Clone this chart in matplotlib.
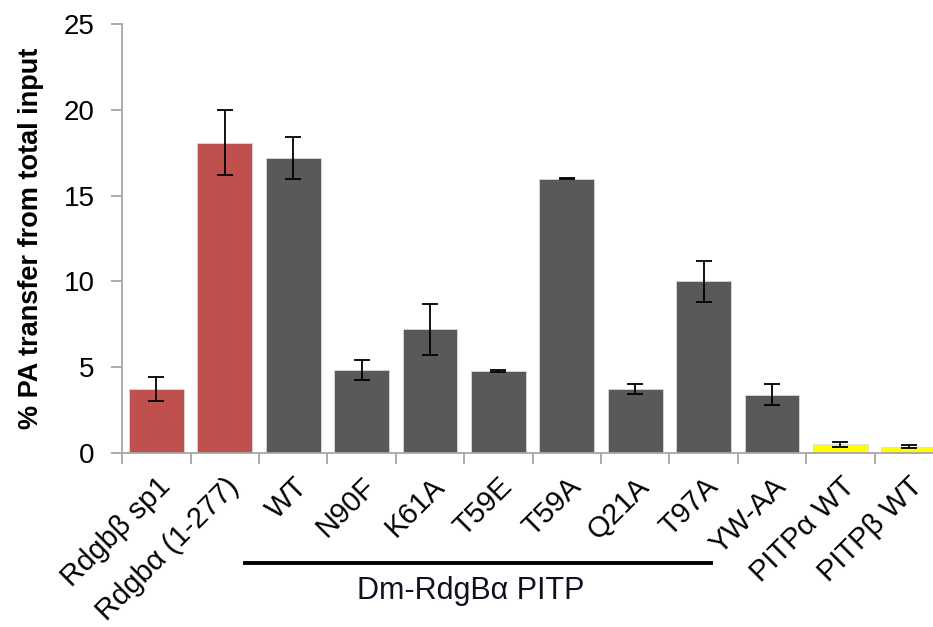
import numpy as np
import matplotlib.pyplot as plt

plt.rcParams['font.family'] = ['Liberation Sans', 'DejaVu Sans']

labels = ['Rdgbβ sp1', 'Rdgbα (1-277)', 'WT', 'N90F', 'K61A', 'T59E', 'T59A',
          'Q21A', 'T97A', 'YW-AA', 'PITPα WT', 'PITPβ WT']
values = [3.75, 18.1, 17.2, 4.85, 7.2, 4.8, 16.0, 3.75, 10.0, 3.4, 0.5, 0.37]
errors = [0.7, 1.9, 1.25, 0.6, 1.5, 0.05, 0.05, 0.3, 1.2, 0.6, 0.15, 0.07]
colors = ['#C0504D'] * 2 + ['#595959'] * 8 + ['#FFFF00'] * 2

fig = plt.figure(figsize=(9.33, 6.27), dpi=100)
ax = fig.add_axes([0.131, 0.2775, 0.8797, 0.684])

x = np.arange(len(labels))
ax.bar(x, values, width=0.8, color=colors, edgecolor='#d9d9d9', linewidth=0.6,
       zorder=2)
ax.errorbar(x, values, yerr=errors, fmt='none', ecolor='black', elinewidth=1.3,
            capsize=6, capthick=1.3, zorder=3)

ax.set_xlim(-0.5, len(labels) - 0.5)
ax.set_ylim(0, 25)
ax.set_yticks(np.arange(0, 26, 5))
ax.set_xticks(x)
ax.set_xticklabels(labels, rotation=45, ha='right', rotation_mode='anchor',
                   fontsize=21)
ax.set_xticks(np.arange(-0.5, len(labels), 1), minor=True)
ax.tick_params(axis='x', which='major', length=0, pad=14)
ax.tick_params(axis='x', which='minor', length=8, color='#a6a6a6', width=1.3)
ax.tick_params(axis='y', length=8, color='#a6a6a6', width=1.3, labelsize=20,
               pad=12)

for s in ['top', 'right']:
    ax.spines[s].set_visible(False)
for s in ['left', 'bottom']:
    ax.spines[s].set_color('#a6a6a6')
    ax.spines[s].set_linewidth(1.3)

ax.set_ylabel('% PA transfer from total input', fontsize=19.5, fontweight='bold',
              labelpad=14)

# group bracket under the Dm-RdgBα mutants
fig.add_artist(plt.Line2D([245 / 933, 711 / 933], [1 - 563 / 627, 1 - 563 / 627],
                          color='black', linewidth=2.8))
fig.text(471 / 933, 1 - 591 / 627, 'Dm-RdgBα PITP', ha='center', va='center',
         fontsize=22, color='#101020')

fig.savefig('out.png', dpi=100)
